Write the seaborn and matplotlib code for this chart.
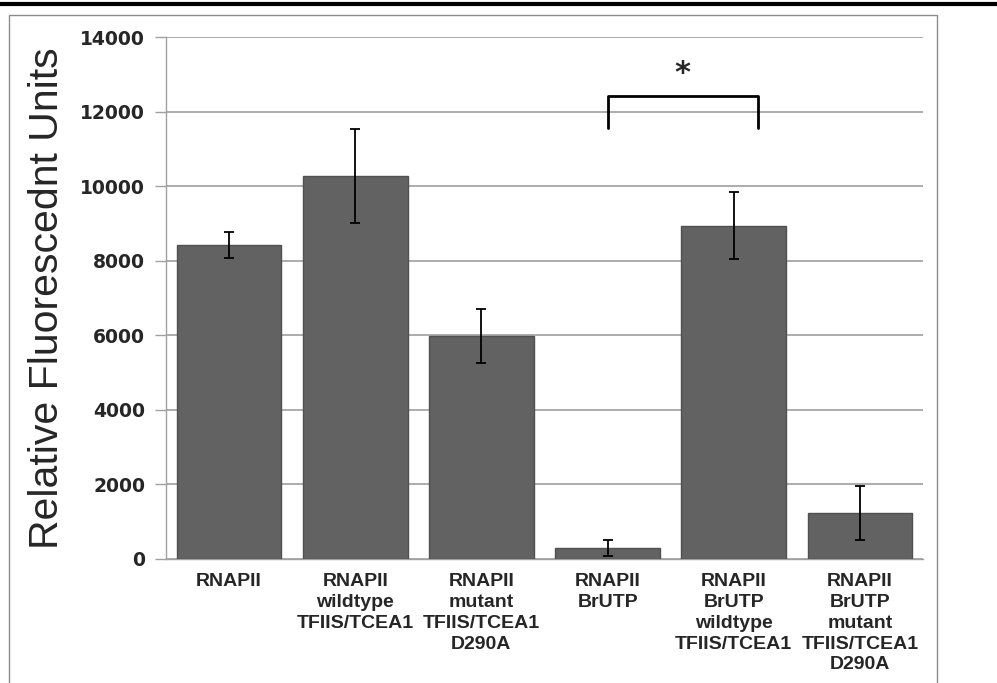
import matplotlib.pyplot as plt
import matplotlib.lines as mlines
import matplotlib.patches as mpatches
import seaborn as sns
import pandas as pd
import numpy as np

# Data
conditions = [
    "RNAPII",
    "RNAPII\nwildtype\nTFIIS/TCEA1",
    "RNAPII\nmutant\nTFIIS/TCEA1\nD290A",
    "RNAPII\nBrUTP",
    "RNAPII\nBrUTP\nwildtype\nTFIIS/TCEA1",
    "RNAPII\nBrUTP\nmutant\nTFIIS/TCEA1\nD290A",
]
rfu_mean = [8430, 10270, 5990, 300, 8940, 1230]
rfu_err = [345, 1270, 725, 210, 900, 725]
y_ticks = [0, 2000, 4000, 6000, 8000, 10000, 12000, 14000]

# significance bracket between BrUTP and BrUTP + wildtype
bracket_x = [3.0, 4.19]
bracket_top = 12420
bracket_leg = 11560

df = pd.DataFrame({"condition": conditions, "rfu": rfu_mean})

sns.set_style("white")
plt.rcParams['font.family'] = ['Liberation Sans', 'DejaVu Sans']

fig = plt.figure(figsize=(9.97, 6.83), dpi=100)
ax = fig.add_axes([0.1665, 0.1816, 0.7593, 0.7642])

sns.barplot(data=df, x="condition", y="rfu", color="#626262", width=0.83,
            saturation=1, errorbar=None, edgecolor="#505050", linewidth=1,
            ax=ax, zorder=3)
ax.errorbar(np.arange(len(rfu_mean)), rfu_mean, yerr=rfu_err, fmt="none",
            ecolor="black", elinewidth=1.3, capsize=3.5, capthick=1.3, zorder=4)

ax.set_xlim(-0.5, len(conditions) - 0.5)
ax.set_ylim(0, 14000)
ax.set_yticks(y_ticks)
ax.set_yticklabels([str(t) for t in y_ticks], fontsize=13.5, fontweight="bold",
                   family="DejaVu Sans")
ax.yaxis.grid(True, color="#a6a6a6", linewidth=1.3, zorder=0)
ax.set_axisbelow(True)

ax.set_xticks(range(len(conditions)))
ax.set_xticklabels(conditions, fontsize=14, fontweight="bold",
                   linespacing=1.3, va="top")
ax.set_xticks(np.arange(-0.5, len(conditions)), minor=True)
ax.tick_params(axis="x", which="major", length=0, pad=10)
ax.tick_params(axis="x", which="minor", length=7, color="#a0a0a0", width=1)
ax.tick_params(axis="y", length=8, color="#a0a0a0", width=1, pad=7, left=True)

for side in ["top", "right"]:
    ax.spines[side].set_visible(False)
for side in ["left", "bottom"]:
    ax.spines[side].set_color("#a0a0a0")
    ax.spines[side].set_linewidth(1)

ax.set_xlabel("")
ax.set_ylabel("Relative Fluorescednt Units", fontsize=29.5, labelpad=10)

# significance bracket and asterisk
ax.plot([bracket_x[0], bracket_x[0], bracket_x[1], bracket_x[1]],
        [bracket_leg, bracket_top, bracket_top, bracket_leg],
        color="black", linewidth=2, zorder=5, clip_on=False)
ax.text(np.mean(bracket_x), bracket_top + 200, "*", ha="center", va="bottom",
        fontsize=22, fontweight="bold", family="DejaVu Sans")

# outer frame and top rule, as in the source figure
fig.add_artist(mpatches.Rectangle((9 / 997, -0.01), (937 - 9) / 997,
                                  1 - 15 / 683 + 0.01, transform=fig.transFigure,
                                  fill=False, edgecolor="#8c8c8c", linewidth=1))
fig.add_artist(mlines.Line2D([0, 1], [1 - 4 / 683, 1 - 4 / 683],
                             transform=fig.transFigure, color="black", linewidth=3))

fig.savefig("out.png", dpi=100)
